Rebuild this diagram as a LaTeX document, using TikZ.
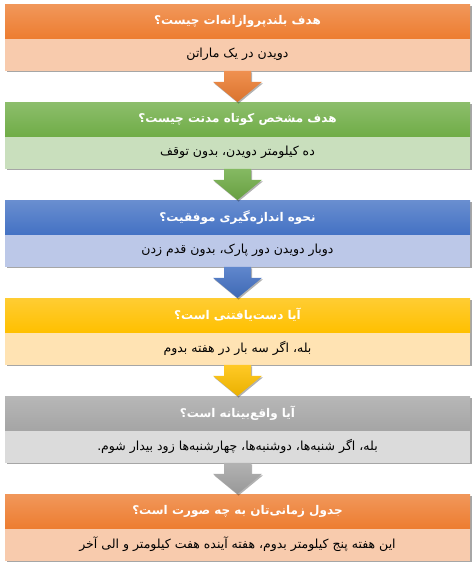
\documentclass[tikz,border=0pt]{standalone}
\usepackage{fontspec}
\newfontfamily\farsi[Script=Arabic]{DejaVu Sans}
\TeXXeTstate=1
\usetikzlibrary{positioning,calc,shadows}

\definecolor{orangeH}{HTML}{ED7D31}
\definecolor{orangeB}{HTML}{F8CBAD}
\definecolor{greenH}{HTML}{70AD47}
\definecolor{greenB}{HTML}{C9DFBD}
\definecolor{blueH}{HTML}{4472C4}
\definecolor{blueB}{HTML}{BCC8E8}
\definecolor{goldH}{HTML}{FFC000}
\definecolor{goldB}{HTML}{FFE3B3}
\definecolor{grayH}{HTML}{A5A5A5}
\definecolor{grayB}{HTML}{DBDBDB}

\newcommand{\rl}[1]{\beginR #1\endR}
% block arrow from the body of one box to the header of the next
\newcommand{\flowarrow}[3]{%
  \path[arrowbody, top color=#3!85!white, bottom color=#3!92!black]
    ($(#1.south)+(-13.5,0)$) -- ($(#1.south)+(-13.5,-11)$) -- ($(#1.south)+(-24.5,-11)$)
    -- (#2.north) -- ($(#1.south)+(24.5,-11)$) -- ($(#1.south)+(13.5,-11)$)
    -- ($(#1.south)+(13.5,0)$) -- cycle;}

\begin{document}
\begin{tikzpicture}[x=1pt,y=1pt,
    boxshadow/.style={drop shadow={shadow xshift=1.5pt,shadow yshift=-1.8pt,opacity=0.35,fill=black}},
    hdr/.style={minimum width=465pt,minimum height=34pt,inner sep=0pt,text=white,
      top color=#1!80!white,bottom color=#1,boxshadow,
      font=\farsi\bfseries\fontsize{12}{14}\selectfont},
    txt/.style={minimum width=465pt,minimum height=32pt,inner sep=0pt,text=black,
      fill=#1,boxshadow,font=\farsi\fontsize{12.5}{14}\selectfont},
    arrowbody/.style={drop shadow={shadow xshift=1pt,shadow yshift=-1.5pt,opacity=0.3,fill=black}}]
  \useasboundingbox (0,0) rectangle (476,-568);

  \node[hdr=orangeH,anchor=north] (h1) at (237.5,-4) {\rl{هدف بلندپروازانه‌ات چیست؟}};
  \node[txt=orangeB,below=0pt of h1] (b1) {\rl{دویدن در یک ماراتن}};

  \node[hdr=greenH,anchor=north] (h2) at (237.5,-102) {\rl{هدف مشخص کوتاه مدتت چیست؟}};
  \node[txt=greenB,below=0pt of h2] (b2) {\rl{ده کیلومتر دویدن، بدون توقف}};

  \node[hdr=blueH,anchor=north] (h3) at (237.5,-200) {\rl{نحوه اندازه‌گیری موفقیت؟}};
  \node[txt=blueB,below=0pt of h3] (b3) {\rl{دوبار دویدن دور پارک، بدون قدم زدن}};

  \node[hdr=goldH,anchor=north] (h4) at (237.5,-298) {\rl{آیا دست‌یافتنی است؟}};
  \node[txt=goldB,below=0pt of h4] (b4) {\rl{بله، اگر سه بار در هفته بدوم}};

  \node[hdr=grayH,anchor=north] (h5) at (237.5,-396) {\rl{آیا واقع‌بینانه است؟}};
  \node[txt=grayB,below=0pt of h5] (b5) {\rl{بله، اگر شنبه‌ها، دوشنبه‌ها، چهارشنبه‌ها زود بیدار شوم.}};

  \node[hdr=orangeH,anchor=north] (h6) at (237.5,-494) {\rl{جدول زمانی‌تان به چه صورت است؟}};
  \node[txt=orangeB,below=0pt of h6] (b6) {\rl{این هفته پنج کیلومتر بدوم، هفته آینده هفت کیلومتر و الی آخر}};

  \flowarrow{b1}{h2}{orangeH}
  \flowarrow{b2}{h3}{greenH}
  \flowarrow{b3}{h4}{blueH}
  \flowarrow{b4}{h5}{goldH}
  \flowarrow{b5}{h6}{grayH}
\end{tikzpicture}
\end{document}
